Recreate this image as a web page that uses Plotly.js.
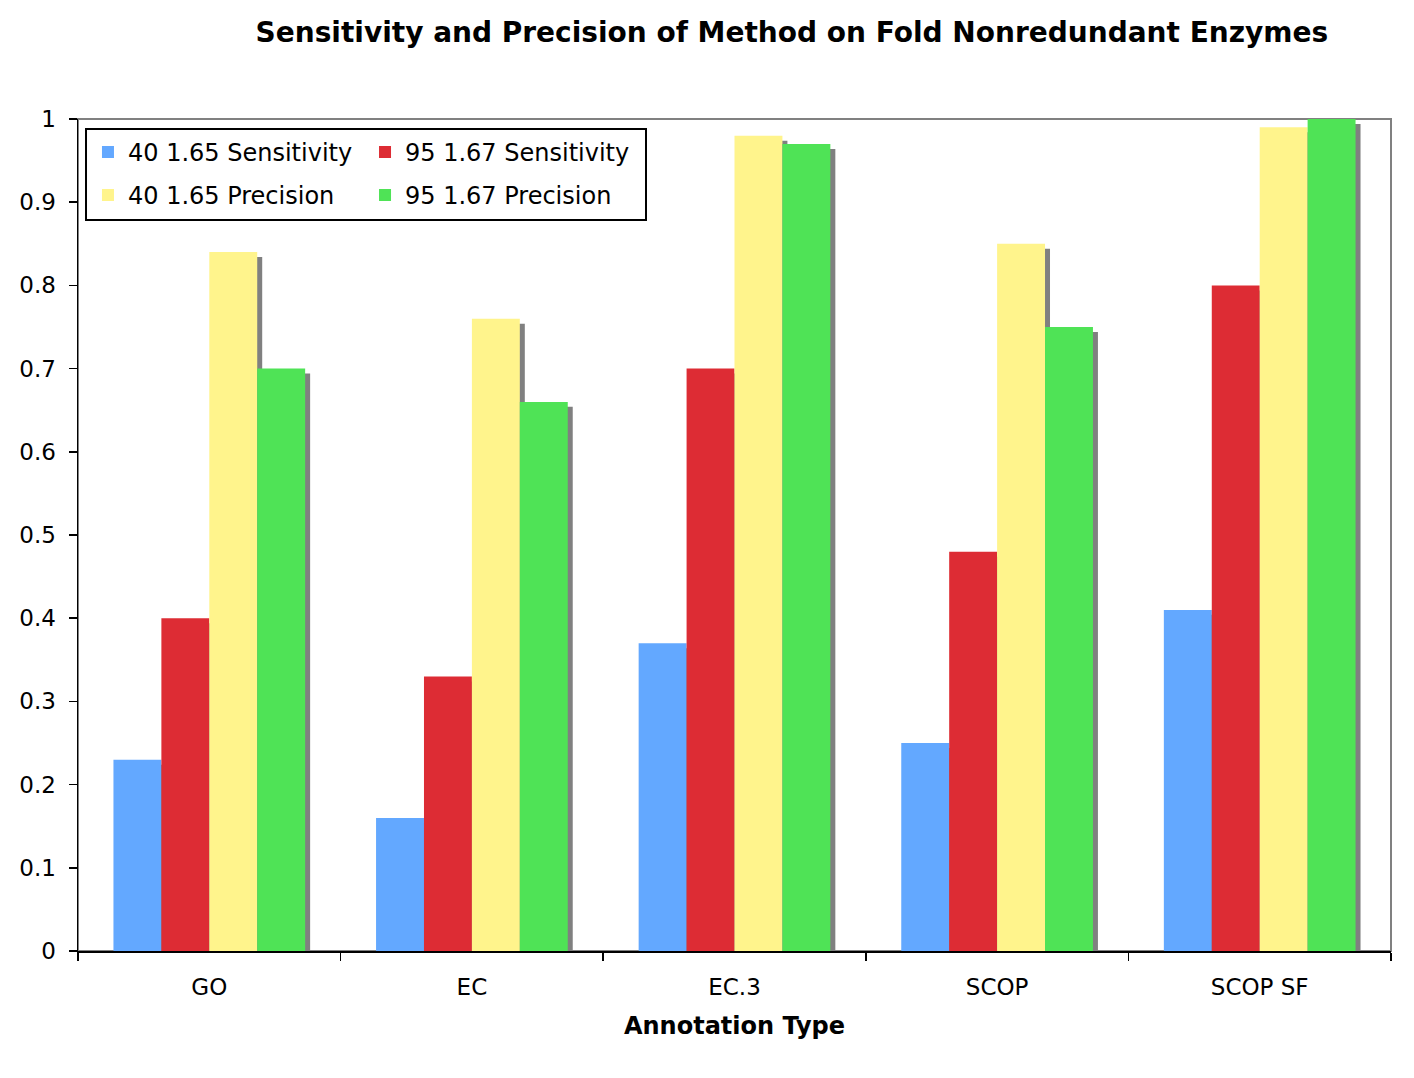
<!DOCTYPE html>
<html>
<head>
<meta charset="utf-8">
<script src="https://cdn.plot.ly/plotly-3.0.1.min.js"></script>
<style>html,body{margin:0;padding:0;background:#fff}</style>
</head>
<body>
<div id="chart" style="width:1414px;height:1078px"></div>
<script>
const categories = ['GO', 'EC', 'EC.3', 'SCOP', 'SCOP SF'];
const sens40 = [0.23, 0.16, 0.37, 0.25, 0.41];
const sens95 = [0.40, 0.33, 0.70, 0.48, 0.80];
const prec40 = [0.84, 0.76, 0.98, 0.85, 0.99];
const prec95 = [0.70, 0.66, 0.97, 0.75, 1.00];

const seriesNames = ['40 1.65 Sensitivity', '95 1.67 Sensitivity', '40 1.65 Precision', '95 1.67 Precision'];
const seriesValues = [sens40, sens95, prec40, prec95];
const seriesColors = ['#63a8ff', '#dd2c34', '#fff48c', '#4fe356'];
// left column of the legend box / right column
const legendOf = ['legend', 'legend2', 'legend', 'legend2'];

const font = 'DejaVu Sans, Verdana, sans-serif';

// drop shadow: same bars in grey, on hidden axes nudged ~5px right and down
const shadowDx = 0.019;
const shadowDy = 0.006;

const shadows = seriesValues.map(v => ({
    x: categories,
    y: v,
    type: 'bar',
    xaxis: 'x',
    yaxis: 'y',
    marker: {color: '#808080'},
    showlegend: false,
    hoverinfo: 'skip'
}));

const bars = seriesValues.map((v, i) => ({
    x: categories,
    y: v,
    type: 'bar',
    name: seriesNames[i],
    xaxis: 'x2',
    yaxis: 'y2',
    marker: {color: seriesColors[i]},
    legend: legendOf[i],
    legendgroup: 'g' + i
}));

const legendBase = {
    orientation: 'v',
    xanchor: 'left',
    yanchor: 'top',
    y: 0.987,
    bgcolor: 'rgba(0,0,0,0)',
    borderwidth: 0,
    tracegroupgap: 9,
    font: {family: font, size: 24, color: '#000'}
};

const layout = {
    width: 1414,
    height: 1078,
    paper_bgcolor: '#fff',
    plot_bgcolor: '#fff',
    font: {family: font, size: 23, color: '#000'},
    margin: {l: 78, r: 23, t: 119, b: 127, autoexpand: false},
    title: {
        text: 'Sensitivity and Precision of Method on Fold Nonredundant Enzymes',
        font: {family: font, size: 28, weight: 'bold'},
        x: 0.56,
        xanchor: 'center',
        y: 0.970,
        yanchor: 'middle'
    },
    barmode: 'group',
    bargap: 0.27,
    bargroupgap: 0,
    showlegend: true,
    legend: Object.assign({}, legendBase, {x: 0.0076}),
    legend2: Object.assign({}, legendBase, {x: 0.2186}),
    xaxis: {
        type: 'category',
        range: [-0.5 - shadowDx, 4.5 - shadowDx],
        visible: false,
        fixedrange: true
    },
    yaxis: {
        range: [shadowDy, 1 + shadowDy],
        visible: false,
        fixedrange: true
    },
    xaxis2: {
        type: 'category',
        overlaying: 'x',
        anchor: 'y2',
        side: 'bottom',
        range: [-0.5, 4.5],
        showgrid: false,
        showline: true,
        linecolor: '#000',
        linewidth: 1.5,
        ticks: 'outside',
        tickson: 'boundaries',
        ticklen: 8,
        tickcolor: '#000',
        tickwidth: 1.5,
        ticklabelstandoff: 15,
        tickfont: {family: font, size: 23},
        title: {
            text: 'Annotation Type',
            font: {family: font, size: 24, weight: 'bold'},
            standoff: 18
        },
        automargin: false
    },
    yaxis2: {
        overlaying: 'y',
        anchor: 'x2',
        side: 'left',
        range: [0, 1],
        dtick: 0.1,
        showgrid: false,
        zeroline: false,
        showline: true,
        linecolor: '#000',
        linewidth: 1.5,
        ticks: 'outside',
        ticklen: 8,
        tickcolor: '#000',
        tickwidth: 1.5,
        ticklabelstandoff: 8,
        tickfont: {family: font, size: 23},
        automargin: false
    },
    shapes: [
        // grey plot frame
        {type: 'rect', xref: 'paper', yref: 'paper', x0: 0, x1: 1, y0: 0, y1: 1,
         line: {color: '#808080', width: 2}, layer: 'below'},
        // legend box
        {type: 'rect', xref: 'paper', yref: 'paper', x0: 0.0061, x1: 0.4326, y0: 0.8786, y1: 0.988,
         line: {color: '#000', width: 2}, fillcolor: 'rgba(0,0,0,0)', layer: 'above'}
    ]
};

Plotly.newPlot('chart', shadows.concat(bars), layout, {displayModeBar: false, staticPlot: true});
</script>
</body>
</html>
